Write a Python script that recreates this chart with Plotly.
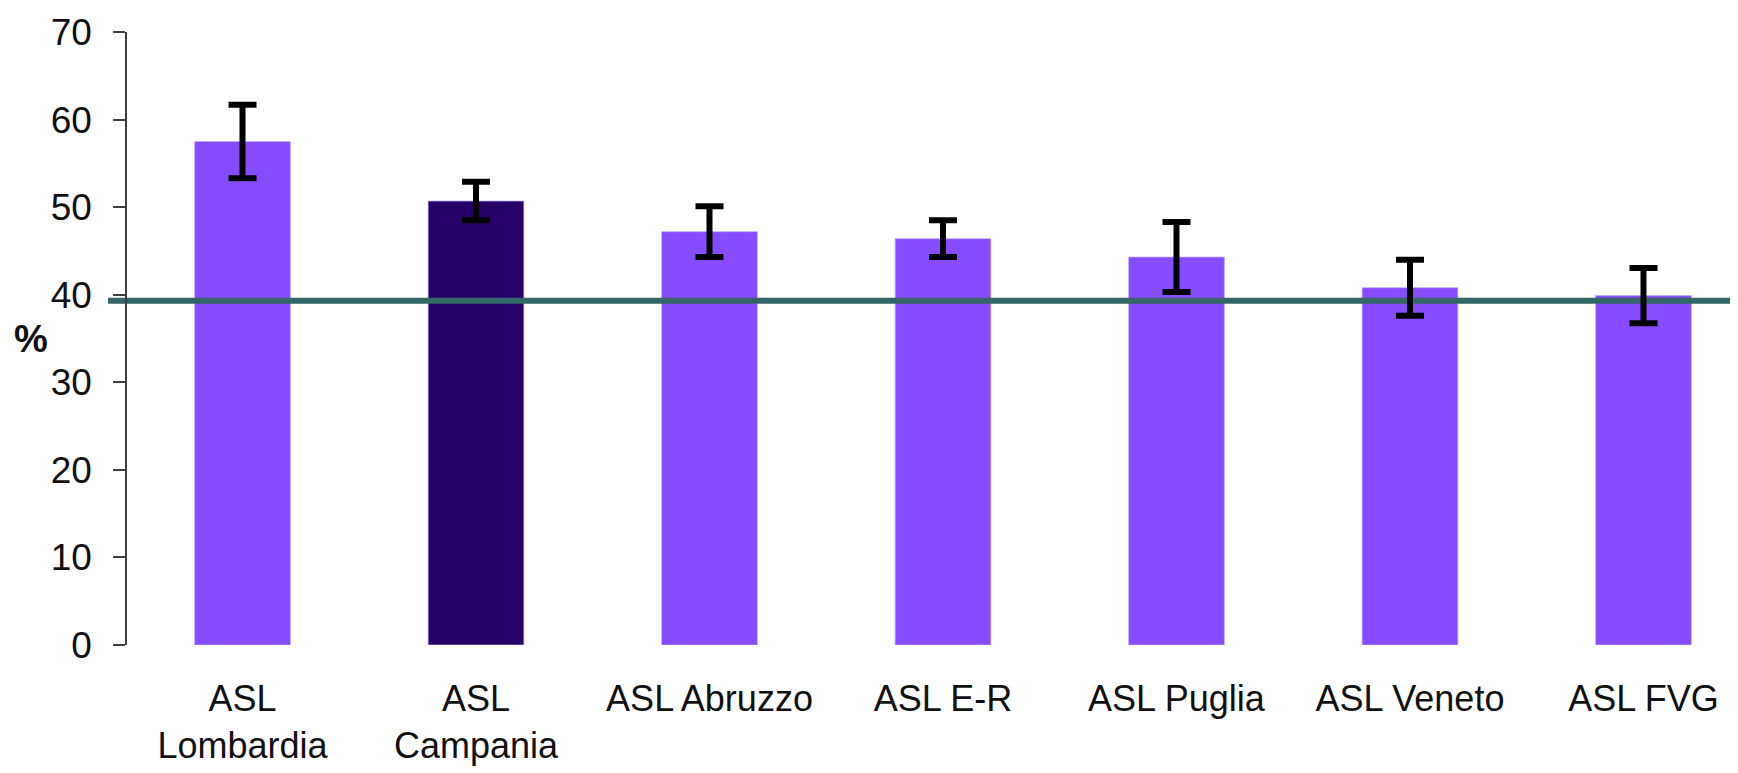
import plotly.graph_objects as go

# ---- data ----
categories = ["ASL<br>Lombardia", "ASL<br>Campania", "ASL Abruzzo", "ASL E-R",
              "ASL Puglia", "ASL Veneto", "ASL FVG"]
values = [57.5, 50.7, 47.2, 46.4, 44.3, 40.8, 39.9]
errors = [4.2, 2.2, 2.9, 2.1, 4.0, 3.2, 3.15]
bar_colors = ["#874CFF", "#260066", "#874CFF", "#874CFF", "#874CFF", "#874CFF", "#874CFF"]
reference_value = 39.3
y_ticks = [0, 10, 20, 30, 40, 50, 60, 70]

positions = list(range(len(categories)))
X_RANGE = [-0.576, 6.439]
PLOT_W = 1638

fig = go.Figure()

fig.add_trace(go.Bar(
    x=positions, y=values, width=0.41,
    marker=dict(color=bar_colors, line=dict(color="rgba(190,170,255,0.7)", width=1)),
    showlegend=False, hoverinfo="skip",
))

# reference line (drawn above bars, below error bars)
fig.add_trace(go.Scatter(
    x=X_RANGE, y=[reference_value, reference_value], mode="lines",
    line=dict(color="#336666", width=6), showlegend=False, hoverinfo="skip",
))

# error bars on top
fig.add_trace(go.Scatter(
    x=positions, y=values, mode="markers",
    marker=dict(size=1, opacity=0),
    error_y=dict(type="data", array=errors, visible=True, color="black",
                 thickness=6, width=14),
    showlegend=False, hoverinfo="skip",
))

fig.update_layout(
    width=1738, height=773,
    margin=dict(l=100, r=0, t=24, b=136),
    paper_bgcolor="white", plot_bgcolor="white",
    font=dict(family="Liberation Sans, Arial, sans-serif", color="#111111"),
    xaxis=dict(
        range=X_RANGE, tickmode="array", tickvals=positions, ticktext=categories,
        showline=False, showgrid=False, zeroline=False, ticks="",
        tickfont=dict(size=36, color="#111111"), ticklabelstandoff=29,
    ),
    yaxis=dict(
        range=[0, 70], tickmode="array", tickvals=y_ticks,
        anchor="free", position=18 / PLOT_W,
        showline=True, linecolor="#404040", linewidth=1.5,
        ticks="outside", ticklen=12, tickwidth=1.5, tickcolor="#404040",
        showgrid=False, zeroline=False,
        tickfont=dict(size=37, color="#111111"), ticklabelstandoff=14,
    ),
    annotations=[dict(text="<b>%</b>", xref="paper", yref="paper",
                      x=-77 / PLOT_W, y=0.5, xanchor="center", yanchor="middle",
                      showarrow=False,
                      font=dict(size=38, color="#111111"))],
)

fig.write_html("out.html")
